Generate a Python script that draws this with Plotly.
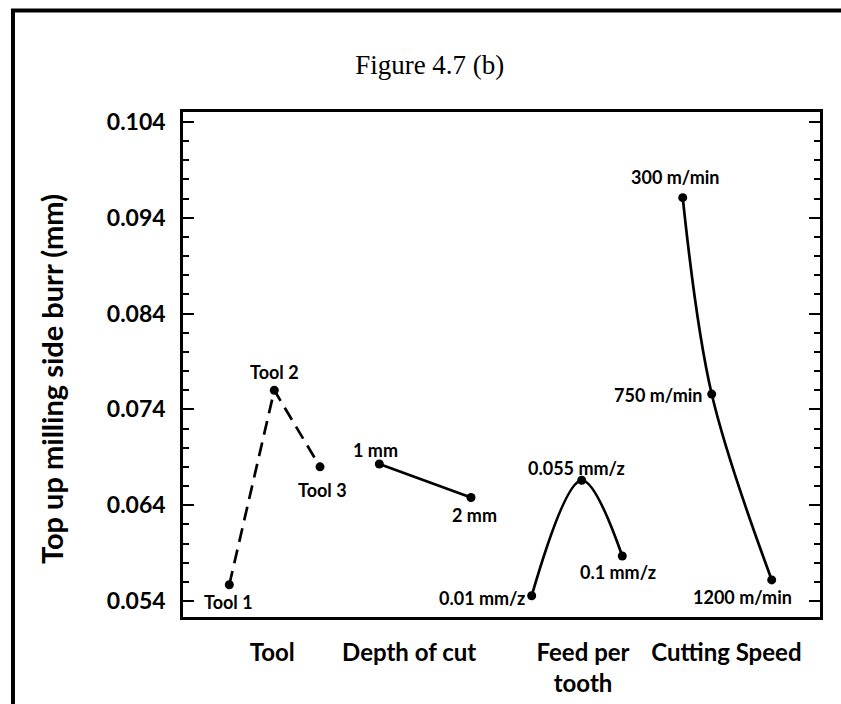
import plotly.graph_objects as go

# ---- data ----
tool_labels = ["Tool 1", "Tool 2", "Tool 3"]
tool_x = [0.727, 1.433, 2.151]
tool_y = [0.0557, 0.0760, 0.0680]

doc_labels = ["1 mm", "2 mm"]
doc_x = [3.082, 4.521]
doc_y = [0.0683, 0.0648]

feed_labels = ["0.01 mm/z", "0.055 mm/z", "0.1 mm/z"]
feed_x = [5.474, 6.259, 6.896]
feed_y = [0.05455, 0.0666, 0.0587]

speed_labels = ["300 m/min", "750 m/min", "1200 m/min"]
speed_x = [7.845, 8.300, 9.242]
speed_y = [0.0961, 0.0756, 0.0562]

group_names = ["Tool", "Depth of cut", "Feed per<br>tooth", "Cutting Speed"]
group_pos = [1.40, 3.55, 6.28, 8.53]

y_ticks = [0.054, 0.064, 0.074, 0.084, 0.094, 0.104]

# ---- styles ----
FONT = "Lato"
lab_font = dict(family=FONT, size=18, color="black", weight="bold")
line_w = 2.7

fig = go.Figure()

series = [
    (tool_x, tool_y, "linear", "14px,8px"),
    (doc_x, doc_y, "linear", "solid"),
    (feed_x, feed_y, "spline", "solid"),
    (speed_x, speed_y, "spline", "solid"),
]
for xs, ys, shape, dash in series:
    fig.add_trace(go.Scatter(
        x=xs, y=ys, mode="lines+markers",
        line=dict(color="black", width=line_w, shape=shape, dash=dash),
        marker=dict(color="black", size=9),
        showlegend=False, cliponaxis=False,
    ))

# label offsets (px): xshift, yshift, xanchor
offsets = [
    [(-1, -17, "center"), (0, 18, "center"), (2, -23, "center")],
    [(-4, 14, "center"), (4, -17, "center")],
    [(-5, -2, "right"), (-5, 12, "center"), (-4, -16, "center")],
    [(-8, 21, "center"), (-8, -1, "right"), (-29, -17, "center")],
]
all_groups = [
    (tool_labels, tool_x, tool_y),
    (doc_labels, doc_x, doc_y),
    (feed_labels, feed_x, feed_y),
    (speed_labels, speed_x, speed_y),
]
for (labels, xs, ys), offs in zip(all_groups, offsets):
    for lab, xv, yv, (dx, dy, anc) in zip(labels, xs, ys, offs):
        fig.add_annotation(
            x=xv, y=yv, xref="x", yref="y", text=lab, showarrow=False,
            xshift=dx, yshift=dy, xanchor=anc, yanchor="middle",
            font=lab_font,
        )

# y-axis title
fig.add_annotation(
    x=-0.2057, y=0.4713, xref="paper", yref="paper",
    text="Top up milling side burr (mm)", textangle=-90, showarrow=False,
    xanchor="center", yanchor="middle",
    font=dict(family=FONT, size=29, color="black", weight="bold"),
)

# outer frame (left and top lines)
fig.add_shape(type="line", xref="paper", yref="paper",
              x0=-0.2669, x1=-0.2669, y0=-0.25, y1=1.2040,
              line=dict(color="black", width=4))
fig.add_shape(type="line", xref="paper", yref="paper",
              x0=-0.2700, x1=1.10, y0=1.2010, y1=1.2010,
              line=dict(color="black", width=4))

fig.update_xaxes(
    range=[0, 10], showline=True, linecolor="black", linewidth=2.5,
    mirror=True, ticks="", showgrid=False, zeroline=False,
    tickmode="array", tickvals=group_pos, ticktext=group_names,
    tickfont=dict(family=FONT, size=24, color="black", weight="bold"),
    ticklabelstandoff=12,
)
fig.update_yaxes(
    range=[0.05233, 0.10504], showline=True, linecolor="black", linewidth=2.5,
    mirror="ticks", ticks="inside", ticklen=11, tickwidth=2, tickcolor="black",
    tickmode="array", tickvals=y_ticks, ticktext=[f"{v:.3f}" for v in y_ticks],
    minor=dict(ticks="inside", ticklen=6, tickwidth=2, tickcolor="black",
               tick0=0.054, dtick=0.002),
    showgrid=False, zeroline=False,
    tickfont=dict(family=FONT, size=23, color="black", weight="bold"),
    ticklabelstandoff=10,
)

fig.update_layout(
    width=841, height=704,
    margin=dict(l=183, r=21, t=112, b=87, autoexpand=False),
    paper_bgcolor="white", plot_bgcolor="white",
    title=dict(text="Figure 4.7 (b)", x=0.511, y=0.9077,
               xanchor="center", yanchor="middle",
               font=dict(family="Liberation Serif", size=27, color="black")),
)

fig.write_html("out.html", config={"displayModeBar": False},
               post_script="document.body.style.margin='0';")
